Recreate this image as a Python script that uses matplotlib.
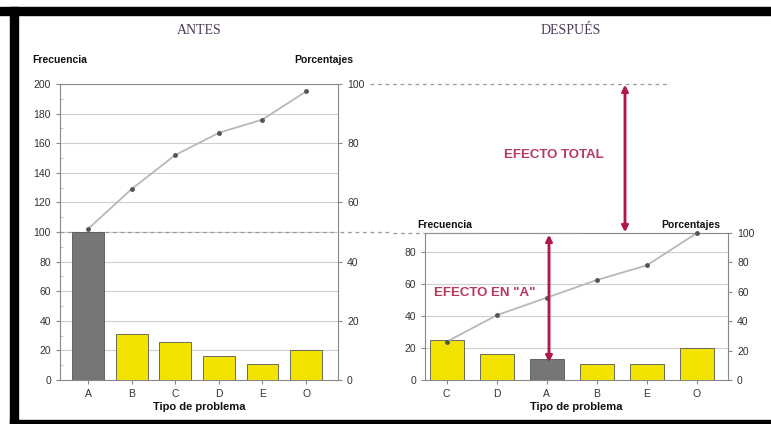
import matplotlib.pyplot as plt
from matplotlib.patches import Rectangle

plt.rcParams['font.family'] = ['Liberation Sans', 'DejaVu Sans']

# ANTES
antes_cats = ["A", "B", "C", "D", "E", "O"]
antes_freq = [100, 31, 26, 16, 11, 20]
antes_cum = [51, 64.5, 76, 83.5, 88, 97.5]

# DESPUÉS
despues_cats = ["C", "D", "A", "B", "E", "O"]
despues_freq = [25, 16, 13, 10, 10, 20]
despues_cum = [26, 44, 56, 68, 78, 100]

YELLOW = "#f2e400"
GRAY_BAR = "#767676"
CRIMSON = "#b01848"
TXT = "#333333"
W, H = 771, 424


def fx(px):
    return px / W


def fy(py):
    return 1 - py / H


fig = plt.figure(figsize=(7.71, 4.24), dpi=100)
fig.patch.set_facecolor("white")

# black frame
for (x0, y0, x1, y1) in [(0, 7, 771, 15), (10, 7, 18, 424), (10, 420, 771, 424)]:
    fig.patches.append(Rectangle((fx(x0), fy(y1)), fx(x1) - fx(x0), fy(y0) - fy(y1),
                                 transform=fig.transFigure, color="black", zorder=0))


def style_axes(ax, ax2, cats, freq, cum, ylim_left, yticks_left, xlim, width):
    colors = [GRAY_BAR if c == "A" else YELLOW for c in cats]
    x = list(range(len(cats)))
    ax.bar(x, freq, width=width, color=colors, edgecolor="#555555", linewidth=0.6, zorder=3)
    ax.set_xlim(*xlim)
    ax.set_ylim(*ylim_left)
    ax.set_yticks(yticks_left)
    ax.set_xticks(x)
    ax.set_xticklabels(cats)
    ax.grid(axis="y", color="#cfcfcf", linewidth=0.8, zorder=0)
    ax.set_axisbelow(True)
    for s in ax.spines.values():
        s.set_color("#888888")
        s.set_linewidth(0.8)
    ax.tick_params(axis="both", labelsize=7.5, colors="#888888", labelcolor=TXT, length=3)
    ax.set_xlabel("Tipo de problema", fontsize=8, fontweight="bold", color="#111111", labelpad=2)

    ax2.set_ylim(0, 100)
    ax2.set_yticks([0, 20, 40, 60, 80, 100])
    ax2.tick_params(axis="y", labelsize=7.5, colors="#888888", labelcolor=TXT, length=3)
    for s in ax2.spines.values():
        s.set_visible(False)
    ax2.plot(x, cum, color="#b8b8b8", linewidth=1.3, marker="o", markersize=2.5,
             markerfacecolor="#555555", markeredgecolor="#555555", zorder=4, clip_on=False)


# left chart
axL = fig.add_axes([fx(60), fy(380), fx(338) - fx(60), fy(84) - fy(380)])
axL2 = axL.twinx()
style_axes(axL, axL2, antes_cats, antes_freq, antes_cum, (0, 200),
           [0, 20, 40, 60, 80, 100, 120, 140, 160, 180, 200], (-0.64, 5.73), 0.73)
axL.set_yticks(range(0, 201, 10), minor=True)
axL.tick_params(axis="y", which="minor", direction="in", length=2, colors="#bbbbbb")
axL.axhline(100, color="#999999", linewidth=0.9, linestyle=(0, (3, 3)), zorder=1)

# right chart
axR = fig.add_axes([fx(425), fy(380), fx(728) - fx(425), fy(233) - fy(380)])
axR2 = axR.twinx()
style_axes(axR, axR2, despues_cats, despues_freq, despues_cum, (0, 92),
           [0, 20, 40, 60, 80], (-0.43, 5.62), 0.68)

# dashed guide lines in figure coordinates
for (x0, x1, y) in [(340, 390, 232), (370, 667, 84), (393, 583, 233)]:
    fig.add_artist(plt.Line2D([fx(x0), fx(x1)], [fy(y), fy(y)], transform=fig.transFigure,
                              color="#999999", linewidth=0.9, linestyle=(0, (3, 3))))

# effect arrows
for (x, y0, y1) in [(625, 85, 232), (549, 235, 362)]:
    fig.add_artist(plt.annotate("", xy=(fx(x), fy(y0)), xytext=(fx(x), fy(y1)),
                                xycoords="figure fraction", textcoords="figure fraction",
                                arrowprops=dict(arrowstyle="<|-|>", color=CRIMSON, lw=1.8,
                                                mutation_scale=9, shrinkA=0, shrinkB=0)))

fig.text(fx(554), fy(155), "EFECTO TOTAL", ha="center", va="center", fontsize=9.5,
         fontweight="bold", color="#b8385e")
fig.text(fx(485), fy(293), "EFECTO EN \"A\"", ha="center", va="center", fontsize=9.5,
         fontweight="bold", color="#b8385e")

# titles
fig.text(fx(199), fy(31), "ANTES", ha="center", va="center", fontsize=10,
         family=["Liberation Serif", "DejaVu Serif"], color="#4a3a58")
fig.text(fx(571), fy(31), "DESPUÉS", ha="center", va="center", fontsize=10,
         family=["Liberation Serif", "DejaVu Serif"], color="#4a3a58")

# axis captions
for (x, y, s, ha) in [(32, 60, "Frecuencia", "left"), (353, 60, "Porcentajes", "right"),
                      (417, 225, "Frecuencia", "left"), (720, 225, "Porcentajes", "right")]:
    fig.text(fx(x), fy(y), s, ha=ha, va="center", fontsize=7.5, fontweight="bold", color="#111111")

fig.savefig("out.png", dpi=100, facecolor="white")
